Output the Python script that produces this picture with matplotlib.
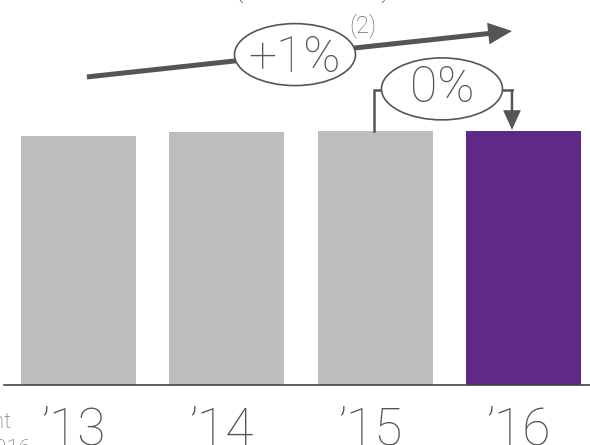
import matplotlib
matplotlib.use("Agg")
import matplotlib.pyplot as plt
from matplotlib.patches import Ellipse, FancyArrowPatch

# data
years = ["’13", "’14", "’15", "’16"]
values = [98.1, 99.6, 100.0, 100.0]
bar_colors = ["#bdbdbd", "#bdbdbd", "#bdbdbd", "#5f2987"]
cagr_label = "+1%"
cagr_note = "(2)"
yoy_label = "0%"
title_tail = "(in millions)"
foot_lines = ["Constant", "2016"]

DARK = "#555555"
plt.rcParams['font.family'] = ['Roboto', 'DejaVu Sans']

fig = plt.figure(figsize=(5.9, 4.45), dpi=100)
ax = fig.add_axes([0, 60 / 445, 1, 385 / 445])
x = list(range(len(years)))
ax.bar(x, values, width=0.775, color=bar_colors, zorder=2)
ax.set_xlim(-0.529, 3.449)
ax.set_ylim(0, 151.6)

for s in ax.spines.values():
    s.set_visible(False)
ax.set_yticks([])
# labels sit a touch left of the bar centres in the original
ax.set_xticks([i - 0.034 for i in x], years)
ax.tick_params(axis='x', length=0, pad=15, labelsize=37, labelcolor=DARK)
for lbl in ax.get_xticklabels():
    lbl.set_fontweight('light')
ax.axhline(0, xmin=4 / 590, color="#444444", lw=1.2, zorder=3, clip_on=False)

# long trend arrow (CAGR)
trend = FancyArrowPatch((0.057, 121.3), (2.923, 139.4),
                        arrowstyle="-|>,head_length=11,head_width=5",
                        mutation_scale=1, lw=3.6, color=DARK,
                        shrinkA=0, shrinkB=0, joinstyle='miter',
                        capstyle='butt', zorder=3)
ax.add_patch(trend)
ax.add_patch(Ellipse((1.460, 130.1), 0.816, 24.4, facecolor="white",
                     edgecolor=DARK, lw=1.2, zorder=4))
ax.text(1.460, 123.4, cagr_label, ha='center', va='baseline', fontsize=36,
        color=DARK, fontweight='light', zorder=5)
ax.text(1.917, 138.8, cagr_note, ha='center', va='baseline', fontsize=17,
        color="#666666", fontweight='light', zorder=5)

# year-on-year bracket
yb = 116.1
ax.plot([1.99, 1.99, 2.451 - 0.408], [values[2], yb, yb], color=DARK,
        lw=1.8, solid_joinstyle='miter', zorder=3)
ax.plot([2.451 + 0.408, 2.923], [yb, yb], color=DARK, lw=1.8, zorder=3)
down = FancyArrowPatch((2.923, yb + 0.35), (2.923, values[3] + 0.5),
                       arrowstyle="-|>,head_length=11,head_width=5",
                       mutation_scale=1, lw=1.8, color=DARK,
                       shrinkA=0, shrinkB=0, joinstyle='miter',
                       capstyle='butt', zorder=3)
ax.add_patch(down)
ax.add_patch(Ellipse((2.451, 116.6), 0.816, 24.4, facecolor="white",
                     edgecolor=DARK, lw=1.2, zorder=4))
ax.text(2.451, 111.4, yoy_label, ha='center', va='baseline', fontsize=36,
        color=DARK, fontweight='light', zorder=5)

# clipped texts at the figure edges
fig.text(312 / 590, 1 + 4 / 445, title_tail, ha='center', va='baseline',
         fontsize=23, color=DARK, fontweight='light')
fig.text(12 / 590, 17 / 445, foot_lines[0], ha='right', va='baseline',
         fontsize=16, color="#666666", fontweight='light')
fig.text(32 / 590, -10 / 445, foot_lines[1], ha='right', va='baseline',
         fontsize=16, color="#666666", fontweight='light')

fig.savefig("out.png", dpi=100)
